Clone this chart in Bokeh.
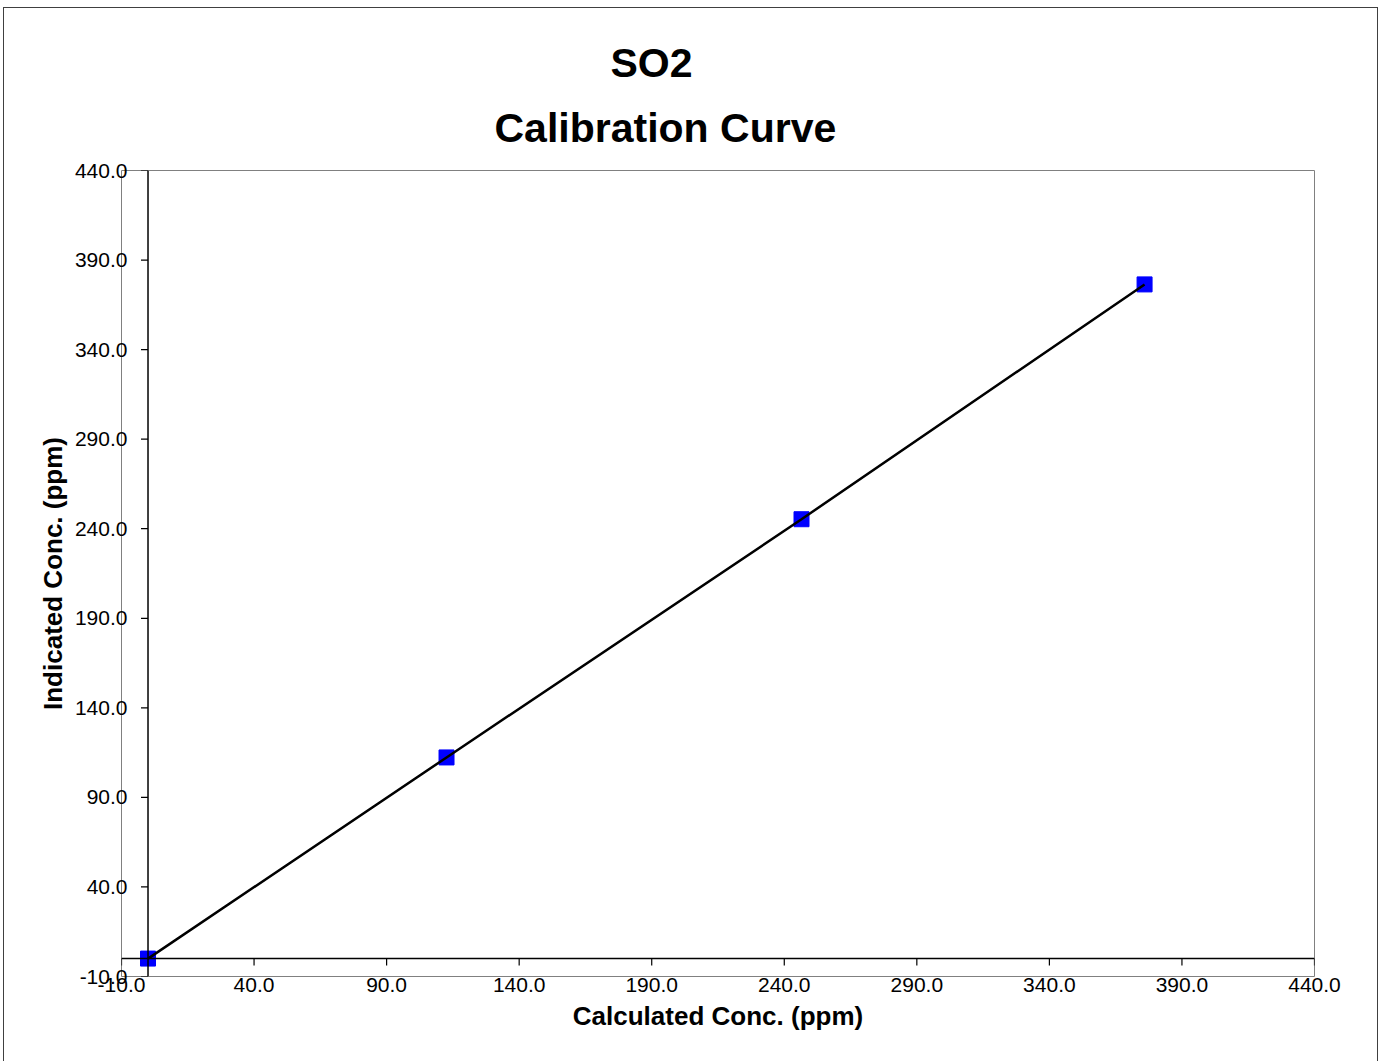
from bokeh.plotting import figure
from bokeh.models import Range1d, FixedTicker, NumeralTickFormatter, Span, Title
from bokeh.embed import file_html
from bokeh.resources import INLINE

# Data
calculated = [0.0, 112.6, 246.5, 375.9]
indicated = [0.0, 112.3, 245.3, 376.4]
tick_values = [-10.0, 40.0, 90.0, 140.0, 190.0, 240.0, 290.0, 340.0, 390.0, 440.0]
title_lines = ["SO2", "Calibration Curve"]
x_label = "Calculated Conc. (ppm)"
y_label = "Indicated Conc. (ppm)"

FONT = "Liberation Sans"
ML, MR, MT, MB = 117, 63, 162, 88
FW, FH = 1193, 806
W, H = ML + FW + MR, MT + FH + MB
XMIN, XMAX, YMIN, YMAX = -10, 440, -10, 440

p = figure(width=W, height=H, output_backend="svg", toolbar_location=None,
           x_range=Range1d(XMIN, XMAX), y_range=Range1d(YMIN, YMAX),
           min_border_left=ML, min_border_right=MR, min_border_top=MT, min_border_bottom=MB)
p.styles = {"margin-left": "4px", "margin-top": "8px", "outline": "1px solid #404040"}
p.grid.visible = False
p.background_fill_color = "white"
p.border_fill_color = "white"
p.outline_line_color = "#808080"
p.outline_line_width = 1

for ax in (p.xaxis[0], p.yaxis[0]):
    ax.ticker = FixedTicker(ticks=tick_values)
    ax.formatter = NumeralTickFormatter(format="0.0")
    ax.axis_line_color = None
    ax.major_tick_line_color = None
    ax.minor_tick_line_color = None
    ax.major_tick_out = 0
    ax.major_tick_in = 0
    ax.major_label_text_font = FONT
    ax.major_label_text_font_size = "21px"
    ax.major_label_text_color = "black"
    ax.axis_label_text_font = FONT
    ax.axis_label_text_font_size = "26px"
    ax.axis_label_text_font_style = "bold"
    ax.axis_label_text_color = "black"

p.xaxis.axis_label = x_label
p.yaxis.axis_label = y_label
p.xaxis.major_label_standoff = 1
p.yaxis.major_label_standoff = -6
p.xaxis.axis_label_standoff = 6
p.yaxis.axis_label_standoff = 4

# axes crossing at zero
p.add_layout(Span(location=0, dimension="height", line_color="black", line_width=1.5))
p.add_layout(Span(location=0, dimension="width", line_color="black", line_width=1.5))

# tick marks (7px outward) on the zero axes
px_x = (XMAX - XMIN) / FW
px_y = (YMAX - YMIN) / FH
tick_len = 7
p.segment(x0=tick_values, x1=tick_values, y0=[0] * len(tick_values),
          y1=[-tick_len * px_y] * len(tick_values), line_color="black", line_width=1.2)
p.segment(x0=[0] * len(tick_values), x1=[-tick_len * px_x] * len(tick_values),
          y0=tick_values, y1=tick_values, line_color="black", line_width=1.2)

# data
p.scatter(calculated, indicated, marker="square", size=15, fill_color="#0000FF",
          line_color="#0000FF")
p.line(calculated, indicated, line_color="black", line_width=2.5)

# title: two left-aligned lines; the first one added sits closest to the frame
title_layout = {"Calibration Curve": (373, 40), "SO2": (489, -6)}
for t in reversed(title_lines):
    off, so = title_layout[t]
    kw = dict(text=t, align="left", offset=off, text_font=FONT, text_font_size="41px",
              text_font_style="bold", text_color="black")
    try:
        ttl = Title(standoff=so, **kw)
    except ValueError:
        ttl = Title(standoff=0, **kw)
    p.add_layout(ttl, "above")

open("out.html", "w").write(file_html(p, INLINE))
